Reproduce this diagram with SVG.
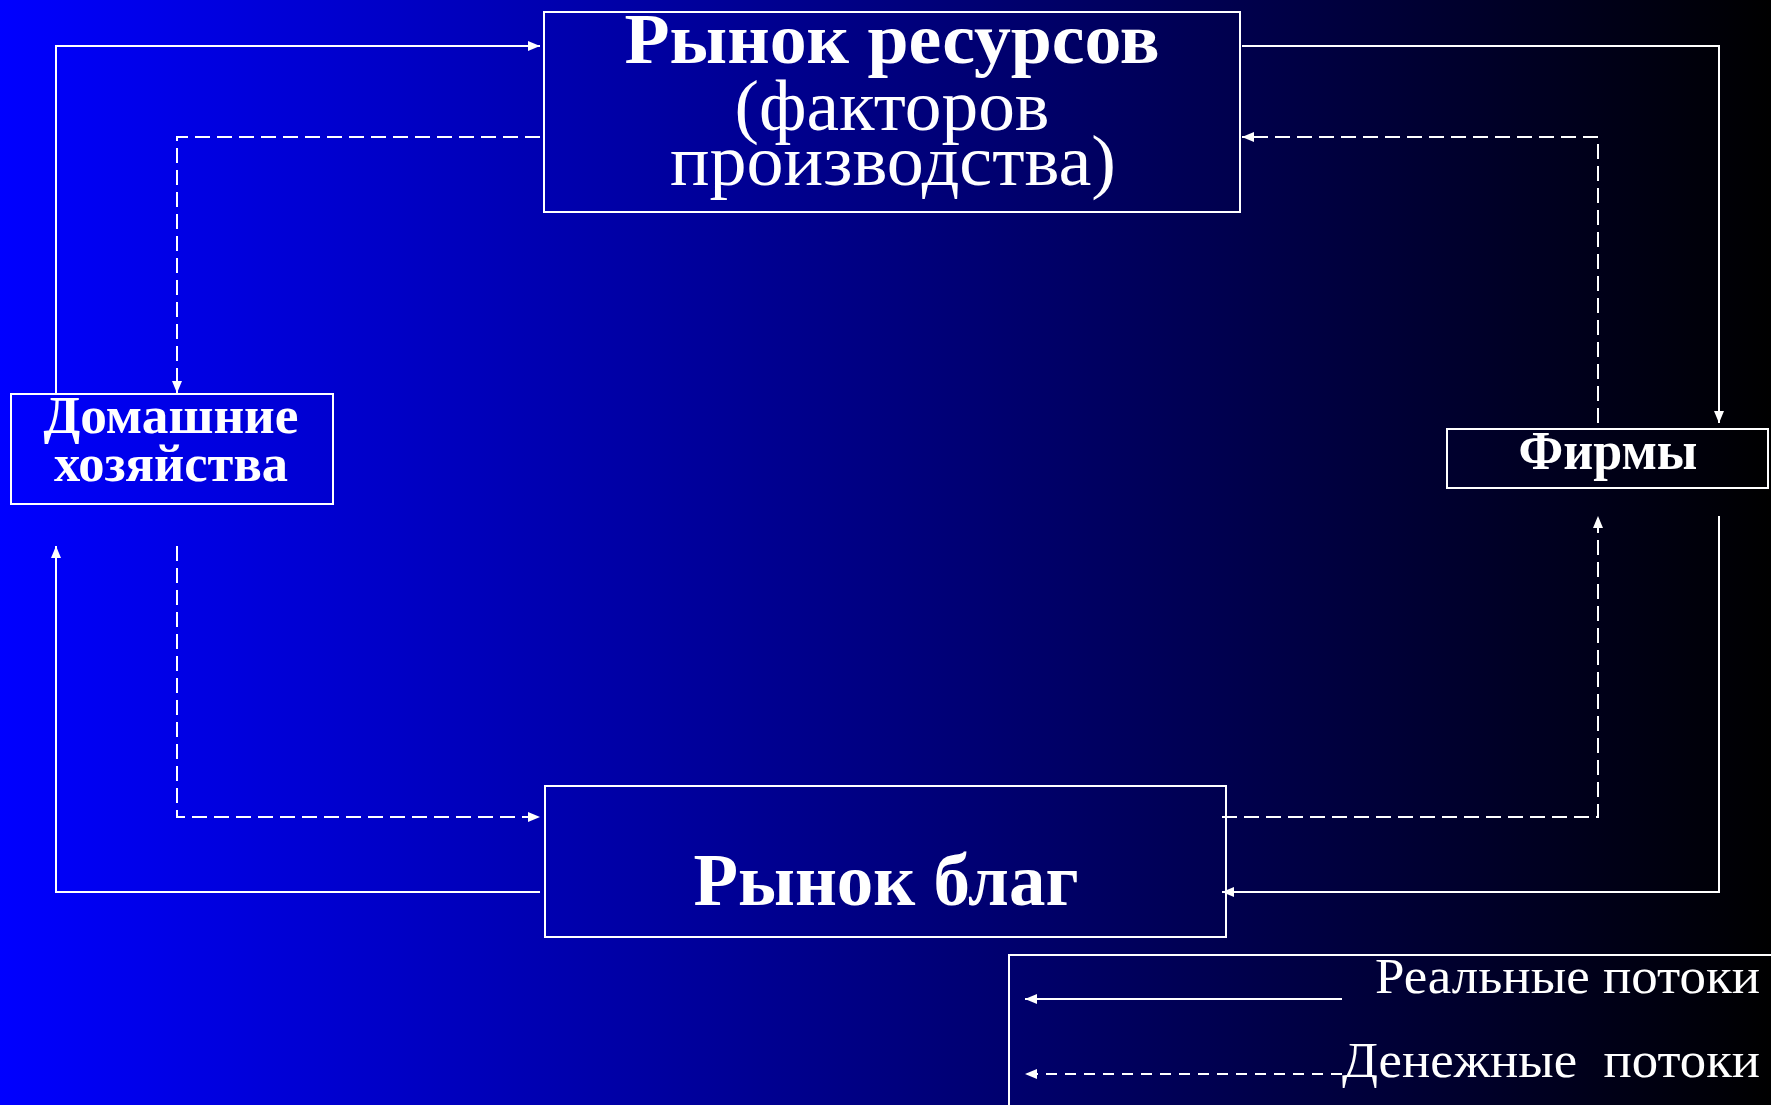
<svg xmlns="http://www.w3.org/2000/svg" width="1771" height="1105" viewBox="0 0 1771 1105">
<defs>
<linearGradient id="bg" x1="0" y1="0" x2="1" y2="0">
<stop offset="0" stop-color="#0000FF"/>
<stop offset="1" stop-color="#000000"/>
</linearGradient>
<marker id="arr" viewBox="0 0 12 10" refX="12" refY="5" markerWidth="12" markerHeight="10" markerUnits="userSpaceOnUse" orient="auto">
<path d="M0,0 L12,5 L0,10 z" fill="#FFFFFF"/>
</marker>
</defs>
<style>
.box{fill:none;stroke:#FFFFFF;stroke-width:2}
.t{font-family:"Liberation Serif","Times New Roman",serif;fill:#FFFFFF;text-anchor:middle}
.b{font-weight:bold}
.solid{fill:none;stroke:#FFFFFF;stroke-width:2;marker-end:url(#arr)}
.dash{fill:none;stroke:#FFFFFF;stroke-width:2;stroke-dasharray:15 7;marker-end:url(#arr)}
.ldash{fill:none;stroke:#FFFFFF;stroke-width:2;stroke-dasharray:11 8;marker-end:url(#arr)}
</style>
<rect x="0" y="0" width="1771" height="1105" fill="url(#bg)"/>

<g id="connectors">
<path class="solid" d="M56,394 V46 H540"/>
<path class="dash" d="M540,137 H177 V393"/>
<path class="solid" d="M1242,46 H1719 V423"/>
<path class="dash" d="M1598,423 V137 H1242"/>
<path class="dash" d="M1222,817 H1598 V516"/>
<path class="solid" d="M1719,516 V892 H1222"/>
<path class="solid" d="M540,892 H56 V546"/>
<path class="dash" d="M177,546 V817 H540"/>
</g>

<g id="resource-market">
<rect class="box" x="544" y="12" width="696" height="200"/>
<text class="t b" x="892" y="63" font-size="72" textLength="535" lengthAdjust="spacingAndGlyphs">Рынок ресурсов</text>
<text class="t" x="892" y="130" font-size="72" textLength="315" lengthAdjust="spacingAndGlyphs">(факторов</text>
<text class="t" x="893" y="185" font-size="72" textLength="446" lengthAdjust="spacingAndGlyphs">производства)</text>
</g>

<g id="households">
<rect class="box" x="11" y="394" width="322" height="110"/>
<text class="t b" x="171" y="433" font-size="52" textLength="255" lengthAdjust="spacingAndGlyphs">Домашние</text>
<text class="t b" x="171" y="481" font-size="52" textLength="234" lengthAdjust="spacingAndGlyphs">хозяйства</text>
</g>

<g id="firms">
<rect class="box" x="1447" y="429" width="321" height="59"/>
<text class="t b" x="1608" y="469" font-size="54" textLength="179" lengthAdjust="spacingAndGlyphs">Фирмы</text>
</g>

<g id="goods-market">
<rect class="box" x="545" y="786" width="681" height="151"/>
<text class="t b" x="886" y="905" font-size="73" textLength="385" lengthAdjust="spacingAndGlyphs">Рынок благ</text>
</g>

<g id="legend">
<rect class="box" x="1009" y="955" width="800" height="200"/>
<path class="solid" d="M1342,999 H1025"/>
<path class="ldash" d="M1342,1074 H1025"/>
<text class="t" x="1760" y="993" font-size="50" style="text-anchor:end" textLength="385" lengthAdjust="spacingAndGlyphs">Реальные потоки</text>
<text class="t" x="1760" y="1077" font-size="50" style="text-anchor:end;white-space:pre" textLength="418" lengthAdjust="spacingAndGlyphs" xml:space="preserve">Денежные  потоки</text>
</g>
</svg>
